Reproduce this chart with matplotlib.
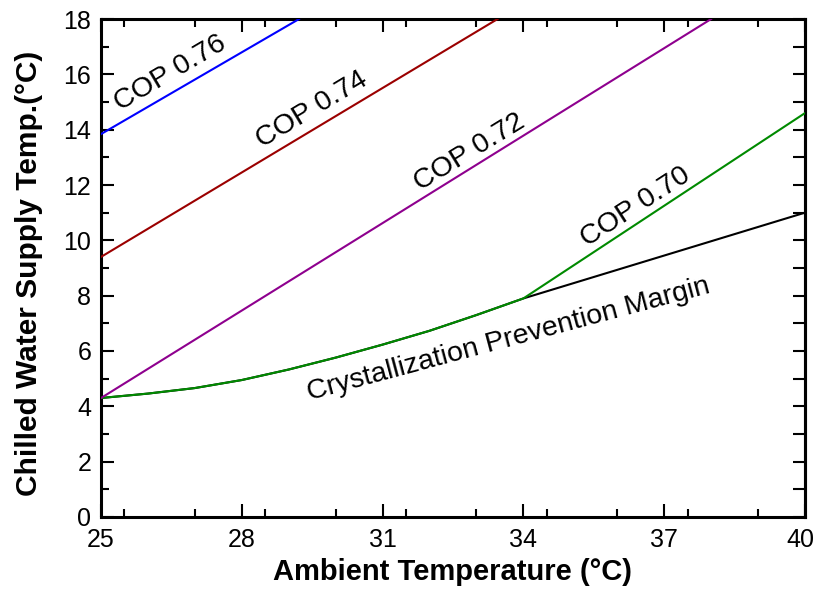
import matplotlib
matplotlib.use("Agg")
import matplotlib.pyplot as plt
from matplotlib.ticker import MultipleLocator
from matplotlib.transforms import ScaledTranslation

plt.rcParams['font.family'] = ['Liberation Sans', 'DejaVu Sans']

# Crystallization prevention margin (lower bound of chilled water temp.)
margin_x = [25, 26, 27, 28, 29, 30, 31, 32, 33, 34, 40]
margin_y = [4.3, 4.46, 4.66, 4.95, 5.33, 5.76, 6.23, 6.73, 7.3, 7.9, 11.0]

# COP iso-lines
cop076_x = [25, 29.22]
cop076_y = [13.84, 18.0]
cop074_x = [25, 33.45]
cop074_y = [9.4, 18.0]
cop072_x = [25, 38.0]
cop072_y = [4.3, 18.0]
# COP 0.70 follows the margin up to 34 °C, then rises linearly
cop070_x = [25, 26, 27, 28, 29, 30, 31, 32, 33, 34, 40]
cop070_y = [4.3, 4.46, 4.66, 4.95, 5.33, 5.76, 6.23, 6.73, 7.3, 7.9, 14.6]

x_ticks = [25, 28, 31, 34, 37, 40]
y_ticks = [0, 2, 4, 6, 8, 10, 12, 14, 16, 18]

fig = plt.figure(figsize=(8.17, 5.98), dpi=100)
ax = fig.add_axes([0.1236, 0.1355, 0.8617, 0.8327])

lw = 1.5
ax.plot(margin_x, margin_y, color='black', lw=lw, zorder=2)
ax.plot(cop070_x, cop070_y, color='#008a00', lw=lw, zorder=3)
ax.plot(cop072_x, cop072_y, color='#8e008e', lw=lw, zorder=3)
ax.plot(cop074_x, cop074_y, color='#9b0000', lw=lw, zorder=3)
ax.plot(cop076_x, cop076_y, color='#0000ff', lw=lw, zorder=3)

ax.set_xlim(25, 40)
ax.set_ylim(0, 18)
ax.set_xticks(x_ticks)
ax.set_yticks(y_ticks)
ax.xaxis.set_minor_locator(MultipleLocator(1.5))
ax.yaxis.set_minor_locator(MultipleLocator(1))

ax.tick_params(axis='both', which='both', direction='in', width=1.5,
               labelsize=18, top=True, right=False)
ax.tick_params(axis='both', which='major', length=9.5)
ax.tick_params(axis='both', which='minor', length=6)
ax.tick_params(axis='x', pad=8)
ax.tick_params(axis='y', pad=7)

for s in ax.spines.values():
    s.set_linewidth(2.2)

# right-hand side: uniform ticks every 1 °C, no labels
sec = ax.secondary_yaxis('right')
sec.set_yticks(range(0, 19))
sec.tick_params(direction='in', length=9, width=1.5, labelright=False)
sec.spines['right'].set_linewidth(2.2)

ax.set_xlabel('Ambient Temperature (°C)', fontsize=21, fontweight='bold', labelpad=4)
ax.set_ylabel('Chilled Water Supply Temp.(°C)', fontsize=21.5, fontweight='bold')
ax.yaxis.set_label_coords(-0.083, 0.49)

txt = dict(fontsize=20.5, ha='center', va='center', rotation_mode='anchor')
ax.text(26.47, 16.05, 'COP 0.76', rotation=30.5, **txt)
ax.text(29.50, 14.71, 'COP 0.74', rotation=31, **txt)
ax.text(32.86, 13.19, 'COP 0.72', rotation=31.5, **txt)
ax.text(36.38, 11.20, 'COP 0.70', rotation=33, **txt)
ax.text(33.69, 6.40, 'Crystallization Prevention Margin', rotation=15, **txt)

# keep the last x tick label inside the canvas
fig.canvas.draw()
last = ax.xaxis.get_majorticklabels()[-1]
last.set_transform(last.get_transform() + ScaledTranslation(-3 / 72, 0, fig.dpi_scale_trans))

fig.savefig('out.png', dpi=100)
